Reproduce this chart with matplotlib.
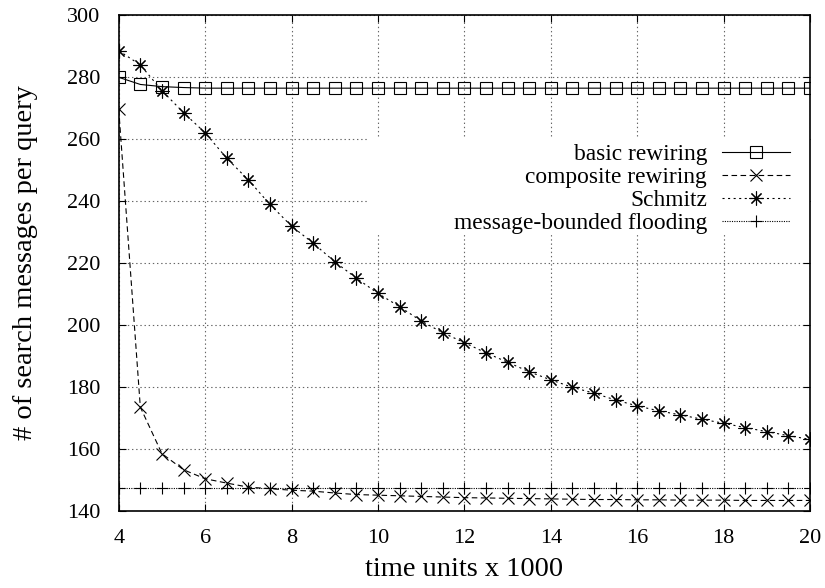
import matplotlib
matplotlib.use('Agg')
import matplotlib.pyplot as plt
import numpy as np
from matplotlib.patches import Rectangle

plt.rcParams['font.family'] = ['Liberation Serif', 'DejaVu Serif']
plt.rcParams['lines.scale_dashes'] = False

# time units x 1000
time_k = [4.0, 4.5, 5.0, 5.5, 6.0, 6.5, 7.0, 7.5, 8.0, 8.5, 9.0, 9.5, 10.0, 10.5,
          11.0, 11.5, 12.0, 12.5, 13.0, 13.5, 14.0, 14.5, 15.0, 15.5, 16.0, 16.5,
          17.0, 17.5, 18.0, 18.5, 19.0, 19.5, 20.0]

basic_rewiring = [279.8, 277.5, 276.8, 276.5, 276.3, 276.3, 276.3, 276.3, 276.3,
                  276.3, 276.3, 276.3, 276.3, 276.3, 276.3, 276.3, 276.3, 276.3,
                  276.3, 276.3, 276.3, 276.3, 276.3, 276.3, 276.3, 276.3, 276.3,
                  276.3, 276.3, 276.3, 276.3, 276.3, 276.3]

composite_rewiring = [269.5, 173.4, 158.4, 153.2, 150.3, 148.9, 147.6, 147.1, 146.6,
                      146.3, 145.7, 145.2, 145.0, 144.8, 144.6, 144.4, 144.2, 144.1,
                      144.0, 143.9, 143.8, 143.7, 143.6, 143.6, 143.5, 143.5, 143.4,
                      143.4, 143.4, 143.3, 143.3, 143.3, 143.3]

schmitz = [288.4, 283.8, 275.5, 268.4, 261.9, 253.7, 246.7, 238.8, 231.8, 226.3,
           220.3, 215.0, 210.1, 205.8, 201.2, 197.4, 194.2, 190.9, 187.9, 184.8,
           182.2, 179.8, 177.9, 175.7, 173.8, 172.2, 170.9, 169.5, 168.2, 166.8,
           165.5, 164.2, 163.0]

flooding = [147.4] * len(time_k)

x_ticks = [4, 6, 8, 10, 12, 14, 16, 18, 20]
y_ticks = [140, 160, 180, 200, 220, 240, 260, 280, 300]

fig = plt.figure(figsize=(8.25, 5.88), dpi=100)
ax = fig.add_axes([0.1439, 0.1315, 0.8380, 0.8435])

ax.set_axisbelow(True)
ax.grid(True, color='0.4', linewidth=0.8, linestyle=(0, (1, 2)))

# white key box that hides the grid behind the legend
ax.add_patch(Rectangle((0.3606, 0.5605), 0.6394, 0.19, transform=ax.transAxes,
                       facecolor='white', edgecolor='none', zorder=1))

common = dict(color='black', linewidth=0.8, markeredgewidth=0.8, zorder=3)
ax.plot(time_k, basic_rewiring, linestyle='-', marker='s', markersize=8.5,
        markerfacecolor='none', label='basic rewiring', **common)
ax.plot(time_k, composite_rewiring, linestyle=(0, (4, 2.5)), marker='x',
        markersize=8, label='composite rewiring', **common)
ax.plot(time_k, schmitz, linestyle=(0, (1.5, 2.5)), marker=(8, 2, 0),
        markersize=10, label='Schmitz', **common)
ax.plot(time_k, flooding, linestyle=(0, (0.8, 0.9)), marker='+',
        markersize=9, label='message-bounded flooding', **common)

ax.set_xlim(4, 20)
ax.set_ylim(140, 300)
ax.set_xticks(x_ticks)
ax.set_yticks(y_ticks)
ax.tick_params(direction='in', length=5, width=0.8, top=True, right=True,
               labelsize=16)
ax.tick_params(axis='x', pad=13)
ax.tick_params(axis='y', pad=13)
for s in ax.spines.values():
    s.set_linewidth(1.2)

ax.set_xlabel('time units x 1000', fontsize=20.5, labelpad=7)
ax.set_ylabel('# of search messages per query', fontsize=20.5, labelpad=21)

ax.legend(loc='upper right', bbox_to_anchor=(0.971, 0.739), frameon=False,
          markerfirst=False, fontsize=16.8, handlelength=2.9, handletextpad=0.65,
          labelspacing=0.07, borderpad=0, borderaxespad=0, numpoints=1)

fig.savefig('out.png', dpi=100)
